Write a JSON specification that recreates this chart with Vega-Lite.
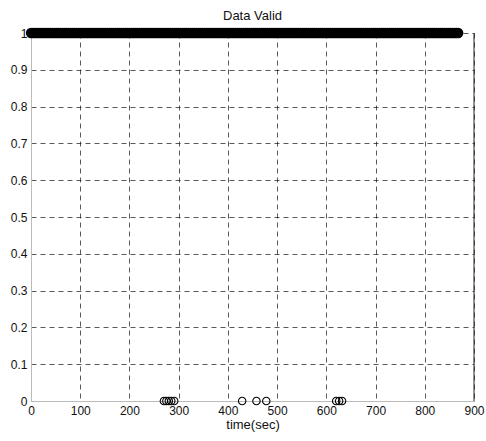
{
  "$schema": "https://vega.github.io/schema/vega-lite/v6.json",
  "width": 443,
  "height": 368,
  "autosize": "none",
  "padding": {"left": 31, "top": 33, "right": 12, "bottom": 40},
  "background": "white",
  "title": {"text": "Data Valid", "font": "Liberation Sans", "fontSize": 13, "fontWeight": "normal", "color": "#111", "offset": 1},
  "config": {
    "view": {"stroke": null},
    "axis": {
      "labelFont": "Liberation Sans", "labelFontSize": 12, "labelColor": "#111",
      "titleFont": "Liberation Sans", "titleFontSize": 13, "titleFontWeight": "normal", "titleColor": "#111",
      "grid": true, "gridColor": "#222", "gridDash": [5, 4], "gridOpacity": 0.75, "gridWidth": 1,
      "domain": true, "domainColor": "#bbb", "ticks": false, "labelOverlap": false
    }
  },
  "datasets": {
    "valid": [
      {"t":0,"v":1},{"t":4,"v":1},{"t":8,"v":1},{"t":12,"v":1},{"t":16,"v":1},{"t":20,"v":1},{"t":24,"v":1},{"t":28,"v":1},{"t":32,"v":1},{"t":36,"v":1},
      {"t":40,"v":1},{"t":44,"v":1},{"t":48,"v":1},{"t":52,"v":1},{"t":56,"v":1},{"t":60,"v":1},{"t":64,"v":1},{"t":68,"v":1},{"t":72,"v":1},{"t":76,"v":1},
      {"t":80,"v":1},{"t":84,"v":1},{"t":88,"v":1},{"t":92,"v":1},{"t":96,"v":1},{"t":100,"v":1},{"t":104,"v":1},{"t":108,"v":1},{"t":112,"v":1},{"t":116,"v":1},
      {"t":120,"v":1},{"t":124,"v":1},{"t":128,"v":1},{"t":132,"v":1},{"t":136,"v":1},{"t":140,"v":1},{"t":144,"v":1},{"t":148,"v":1},{"t":152,"v":1},{"t":156,"v":1},
      {"t":160,"v":1},{"t":164,"v":1},{"t":168,"v":1},{"t":172,"v":1},{"t":176,"v":1},{"t":180,"v":1},{"t":184,"v":1},{"t":188,"v":1},{"t":192,"v":1},{"t":196,"v":1},
      {"t":200,"v":1},{"t":204,"v":1},{"t":208,"v":1},{"t":212,"v":1},{"t":216,"v":1},{"t":220,"v":1},{"t":224,"v":1},{"t":228,"v":1},{"t":232,"v":1},{"t":236,"v":1},
      {"t":240,"v":1},{"t":244,"v":1},{"t":248,"v":1},{"t":252,"v":1},{"t":256,"v":1},{"t":260,"v":1},{"t":264,"v":1},{"t":268,"v":1},{"t":272,"v":1},{"t":276,"v":1},
      {"t":280,"v":1},{"t":284,"v":1},{"t":288,"v":1},{"t":292,"v":1},{"t":296,"v":1},{"t":300,"v":1},{"t":304,"v":1},{"t":308,"v":1},{"t":312,"v":1},{"t":316,"v":1},
      {"t":320,"v":1},{"t":324,"v":1},{"t":328,"v":1},{"t":332,"v":1},{"t":336,"v":1},{"t":340,"v":1},{"t":344,"v":1},{"t":348,"v":1},{"t":352,"v":1},{"t":356,"v":1},
      {"t":360,"v":1},{"t":364,"v":1},{"t":368,"v":1},{"t":372,"v":1},{"t":376,"v":1},{"t":380,"v":1},{"t":384,"v":1},{"t":388,"v":1},{"t":392,"v":1},{"t":396,"v":1},
      {"t":400,"v":1},{"t":404,"v":1},{"t":408,"v":1},{"t":412,"v":1},{"t":416,"v":1},{"t":420,"v":1},{"t":424,"v":1},{"t":428,"v":1},{"t":432,"v":1},{"t":436,"v":1},
      {"t":440,"v":1},{"t":444,"v":1},{"t":448,"v":1},{"t":452,"v":1},{"t":456,"v":1},{"t":460,"v":1},{"t":464,"v":1},{"t":468,"v":1},{"t":472,"v":1},{"t":476,"v":1},
      {"t":480,"v":1},{"t":484,"v":1},{"t":488,"v":1},{"t":492,"v":1},{"t":496,"v":1},{"t":500,"v":1},{"t":504,"v":1},{"t":508,"v":1},{"t":512,"v":1},{"t":516,"v":1},
      {"t":520,"v":1},{"t":524,"v":1},{"t":528,"v":1},{"t":532,"v":1},{"t":536,"v":1},{"t":540,"v":1},{"t":544,"v":1},{"t":548,"v":1},{"t":552,"v":1},{"t":556,"v":1},
      {"t":560,"v":1},{"t":564,"v":1},{"t":568,"v":1},{"t":572,"v":1},{"t":576,"v":1},{"t":580,"v":1},{"t":584,"v":1},{"t":588,"v":1},{"t":592,"v":1},{"t":596,"v":1},
      {"t":600,"v":1},{"t":604,"v":1},{"t":608,"v":1},{"t":612,"v":1},{"t":616,"v":1},{"t":620,"v":1},{"t":624,"v":1},{"t":628,"v":1},{"t":632,"v":1},{"t":636,"v":1},
      {"t":640,"v":1},{"t":644,"v":1},{"t":648,"v":1},{"t":652,"v":1},{"t":656,"v":1},{"t":660,"v":1},{"t":664,"v":1},{"t":668,"v":1},{"t":672,"v":1},{"t":676,"v":1},
      {"t":680,"v":1},{"t":684,"v":1},{"t":688,"v":1},{"t":692,"v":1},{"t":696,"v":1},{"t":700,"v":1},{"t":704,"v":1},{"t":708,"v":1},{"t":712,"v":1},{"t":716,"v":1},
      {"t":720,"v":1},{"t":724,"v":1},{"t":728,"v":1},{"t":732,"v":1},{"t":736,"v":1},{"t":740,"v":1},{"t":744,"v":1},{"t":748,"v":1},{"t":752,"v":1},{"t":756,"v":1},
      {"t":760,"v":1},{"t":764,"v":1},{"t":768,"v":1},{"t":772,"v":1},{"t":776,"v":1},{"t":780,"v":1},{"t":784,"v":1},{"t":788,"v":1},{"t":792,"v":1},{"t":796,"v":1},
      {"t":800,"v":1},{"t":804,"v":1},{"t":808,"v":1},{"t":812,"v":1},{"t":816,"v":1},{"t":820,"v":1},{"t":824,"v":1},{"t":828,"v":1},{"t":832,"v":1},{"t":836,"v":1},
      {"t":840,"v":1},{"t":844,"v":1},{"t":848,"v":1},{"t":852,"v":1},{"t":856,"v":1},{"t":860,"v":1},{"t":864,"v":1},{"t":868,"v":1},
      {"t":270,"v":0},{"t":275,"v":0},{"t":280,"v":0},{"t":285,"v":0},{"t":291,"v":0},
      {"t":429,"v":0},{"t":458,"v":0},{"t":478,"v":0},
      {"t":620,"v":0},{"t":626,"v":0},{"t":632,"v":0}
    ],
    "frame": [{"edge": 900, "lo": 0, "hi": 1}]
  },
  "encoding": {
    "x": {
      "field": "t", "type": "quantitative",
      "scale": {"domain": [0, 900], "nice": false},
      "axis": {"values": [0, 100, 200, 300, 400, 500, 600, 700, 800, 900], "title": "time(sec)", "labelPadding": 4, "titlePadding": 2, "labelFlush": false}
    },
    "y": {
      "field": "v", "type": "quantitative",
      "scale": {"domain": [0, 1], "nice": false},
      "axis": {"values": [0, 0.1, 0.2, 0.3, 0.4, 0.5, 0.6, 0.7, 0.8, 0.9, 1], "format": "~g", "title": null, "labelPadding": 4, "labelFlush": false}
    }
  },
  "layer": [
    {
      "data": {"name": "frame"},
      "mark": {"type": "rule", "color": "#222", "strokeWidth": 1},
      "encoding": {
        "x": {"field": "edge"},
        "y": {"field": "lo"},
        "y2": {"field": "hi"}
      }
    },
    {
      "data": {"name": "valid"},
      "transform": [{"filter": "datum.v == 0"}],
      "mark": {"type": "point", "shape": "circle", "filled": false, "stroke": "#000", "strokeWidth": 1.1, "size": 55, "opacity": 1, "clip": false}
    },
    {
      "data": {"name": "valid"},
      "transform": [{"filter": "datum.v == 1"}],
      "mark": {"type": "point", "shape": "circle", "filled": false, "stroke": "#000", "strokeWidth": 2.3, "size": 64, "opacity": 1, "clip": false}
    }
  ]
}
